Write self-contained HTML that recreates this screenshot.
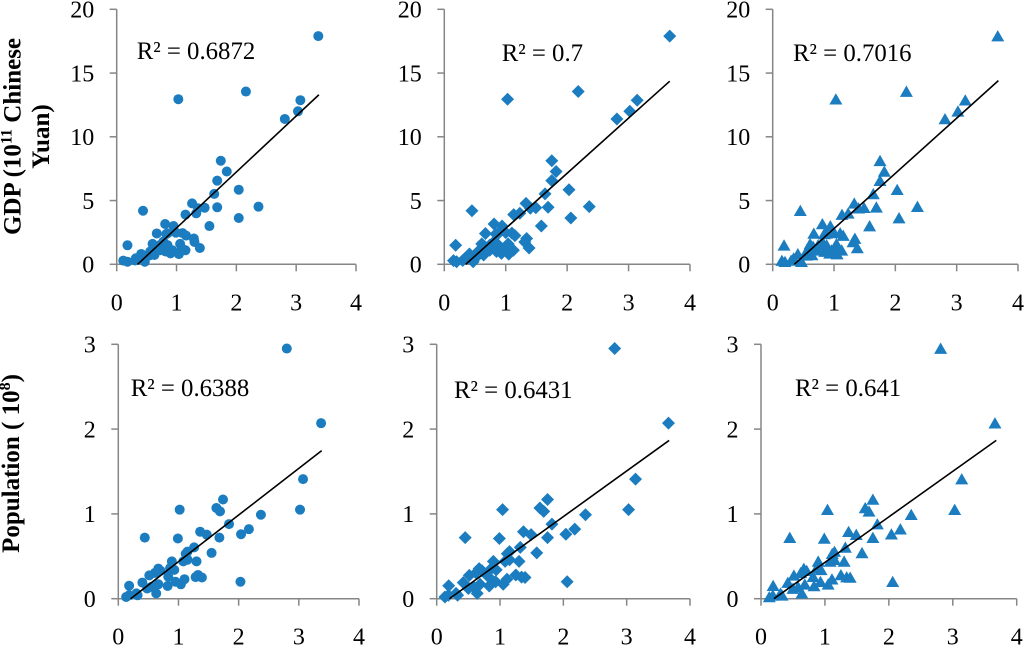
<!DOCTYPE html>
<html lang="en">
<head>
<meta charset="utf-8">
<title>GDP and population scatter panels</title>
<style>
html,body{margin:0;padding:0;background:#fff;width:1024px;height:645px;overflow:hidden}
svg{display:block}
text{font-family:"Liberation Serif",serif;fill:#000}
.tick{font-size:24px}
.r2{font-size:24.8px}
.ytitle{font-size:25px;font-weight:bold}
</style>
</head>
<body>
<svg id="chart" width="1024" height="645" viewBox="0 0 1024 645" xmlns="http://www.w3.org/2000/svg">
  <text class="ytitle" text-anchor="middle" transform="translate(20.5,136.5) rotate(-90)">GDP (10<tspan font-size="16" dy="-9">11</tspan><tspan dy="9"> Chinese</tspan></text>
  <text class="ytitle" text-anchor="middle" transform="translate(49,136.5) rotate(-90)">Yuan)</text>
  <text class="ytitle" text-anchor="middle" transform="translate(19,463.5) rotate(-90)">Population ( 10<tspan font-size="16" dy="-9">8</tspan><tspan dy="9">)</tspan></text>
</svg>
<script>
const xTicks = [0, 1, 2, 3, 4];
const gdpTicks = [0, 5, 10, 15, 20];
const popTicks = [0, 1, 2, 3];

const gdpY = [17.9,13.55,12.95,12.87,12.0,11.4,8.12,7.28,6.56,5.52,5.85,4.52,4.47,4.44,4.78,4.4,3.9,4.0,4.2,3.63,3.0,3.16,3.0,2.42,2.43,2.38,2.48,2.45,2.25,2.02,1.75,1.28,1.6,1.1,1.25,0.8,1.49,0.29,0.2,0.81,0.47,0.2,1.6,1.0,0.73,1.1,1.78,1.0,0.86,1.39,1.5,1.1,1.5,0.3,0.7];
const gdpXCircle = [3.37,2.16,1.03,3.07,3.03,2.81,1.74,1.84,1.68,1.63,2.04,2.37,1.68,1.47,1.26,1.36,1.15,1.33,0.44,2.04,1.55,0.81,0.95,0.67,0.85,0.83,0.99,1.1,1.16,1.29,1.3,1.39,1.06,1.15,1.09,1.04,0.18,0.11,0.18,0.41,0.32,0.47,0.6,0.56,0.63,0.72,0.78,0.82,0.9,0.67,0.72,0.93,0.85,0.31,0.55];
const gdpXDiamond = [3.67,2.18,1.03,3.14,3.02,2.81,1.75,1.82,1.75,1.64,2.03,2.36,1.69,1.49,1.33,1.4,1.13,1.23,0.45,2.06,1.58,0.81,0.94,0.67,0.88,0.84,1.0,1.1,1.15,1.34,1.31,1.38,1.04,1.125,1.07,1.05,0.185,0.15,0.2,0.41,0.34,0.47,0.61,0.55,0.64,0.74,0.81,0.85,0.93,0.66,0.74,0.96,0.88,0.3,0.55];

const popY = [2.95,2.07,1.41,1.05,1.05,1.17,1.07,1.03,0.88,0.99,0.82,0.76,0.79,0.755,0.72,0.71,0.72,0.54,0.605,0.555,0.53,0.46,0.44,0.44,0.44,0.34,0.36,0.355,0.33,0.305,0.275,0.26,0.2,0.15,0.17,0.23,0.255,0.28,0.25,0.2,0.19,0.153,0.063,0.17,0.14,0.12,0.063,0.04,0.02,0.04];
const popXCircle = [2.8,3.37,3.07,3.02,1.02,1.74,1.63,1.69,1.84,2.37,2.17,2.04,1.36,1.47,1.68,0.99,0.44,1.55,1.26,1.15,1.12,1.15,1.08,1.3,0.89,0.93,0.86,0.665,0.7,0.61,0.515,0.83,0.95,0.82,1.04,1.1,1.285,1.325,1.39,2.03,0.4,0.18,0.63,0.665,0.55,0.48,0.3,0.32,0.13,0.18];
const popXDiamond = [2.81,3.66,3.14,3.03,1.04,1.75,1.63,1.69,1.82,2.35,2.18,2.04,1.37,1.49,1.75,0.99,0.45,1.58,1.32,1.15,1.115,1.15,1.08,1.3,0.895,0.94,0.87,0.67,0.715,0.62,0.515,0.815,0.93,0.83,1.05,1.11,1.34,1.25,1.395,2.06,0.42,0.19,0.64,0.685,0.58,0.5,0.305,0.33,0.13,0.185];

const trendSlopes = [4.39, 4.325, 4.33, 0.55, 0.538, 0.537];
const trendIntercepts = [-1.54, -1.51, -1.53, -0.113, -0.108, -0.109];
const trendStarts = [0.35, 0.35, 0.353, 0.205, 0.2, 0.203];
const trendEnds = [3.38, 3.67, 3.68, 3.38, 3.67, 3.68];
const r2Labels = ["R² = 0.6872", "R² = 0.7", "R² = 0.7016", "R² = 0.6388", "R² = 0.6431", "R² = 0.641"];

const svg = document.getElementById('chart');
const NS = 'http://www.w3.org/2000/svg';
const AXIS = '#868686';
const MARK = '#1b7dc0';

const panels = [
  {id:'gdp-circle', xs:gdpXCircle, ys:gdpY, ticks:gdpTicks, shape:'circle', x0:116.7, x1:356, y0:264.3, y1:9.3, rx:136.7, ry:59},
  {id:'gdp-diamond', xs:gdpXDiamond, ys:gdpY, ticks:gdpTicks, shape:'diamond', x0:444.3, x1:690, y0:264.3, y1:9.3, rx:501.7, ry:61},
  {id:'gdp-triangle', xs:gdpXDiamond, ys:gdpY, ticks:gdpTicks, shape:'triangle', x0:772.7, x1:1018, y0:264.3, y1:9.3, rx:793, ry:61},
  {id:'population-circle', xs:popXCircle, ys:popY, ticks:popTicks, shape:'circle', x0:118.3, x1:359, y0:598.7, y1:344.3, rx:130.7, ry:396},
  {id:'population-diamond', xs:popXDiamond, ys:popY, ticks:popTicks, shape:'diamond', x0:436.7, x1:690, y0:598.7, y1:344.3, rx:454, ry:398},
  {id:'population-triangle', xs:popXDiamond, ys:popY, ticks:popTicks, shape:'triangle', x0:761, x1:1016.7, y0:598.7, y1:344.3, rx:795, ry:396}
];

function make(tag, parent, attrs) {
  const el = document.createElementNS(NS, tag);
  for (const k in attrs) el.setAttribute(k, attrs[k]);
  parent.appendChild(el);
  return el;
}

panels.forEach(function (p, pi) {
  const xMax = xTicks[xTicks.length - 1];
  const yMax = p.ticks[p.ticks.length - 1];
  const sx = function (v) { return p.x0 + (p.x1 - p.x0) * v / xMax; };
  const sy = function (v) { return p.y0 - (p.y0 - p.y1) * v / yMax; };

  const g = make('g', svg, {});
  
  

  const xAxis = make('line', g, {x1:sx(0), x2:sx(xMax), y1:p.y0, y2:p.y0, stroke:AXIS, 'stroke-width':1.5});
  
  
  const yAxis = make('line', g, {x1:p.x0, x2:p.x0, y1:sy(0), y2:sy(yMax), stroke:AXIS, 'stroke-width':1.5});
  
  

  xTicks.forEach(function (t) {
    const tick = make('line', g, {x1:sx(t), x2:sx(t), y1:p.y0, y2:p.y0 + 7, stroke:AXIS, 'stroke-width':1.5});
    
    
    const label = make('text', g, {x:sx(t), y:p.y0 + 46, 'text-anchor':'middle', class:'tick'});
    
    
    label.textContent = t;
  });

  p.ticks.forEach(function (t) {
    const tick = make('line', g, {x1:p.x0 - 7, x2:p.x0, y1:sy(t), y2:sy(t), stroke:AXIS, 'stroke-width':1.5});
    
    
    const label = make('text', g, {x:p.x0 - 22.5, y:sy(t) + 8.3, 'text-anchor':'end', class:'tick'});
    
    
    label.textContent = t;
  });

  p.ys.forEach(function (v, i) {
    const cx = sx(p.xs[i]);
    const cy = sy(v);
    let m;
    if (p.shape === 'circle') {
      m = make('circle', g, {cx:cx, cy:cy, r:5, fill:MARK});
    } else if (p.shape === 'diamond') {
      m = make('polygon', g, {points:[cx, cy - 6.5, cx + 6.5, cy, cx, cy + 6.5, cx - 6.5, cy].join(' '), fill:MARK});
    } else {
      m = make('polygon', g, {points:[cx, cy - 6, cx + 6.5, cy + 5.3, cx - 6.5, cy + 5.3].join(' '), fill:MARK});
    }
    
    
  });

  const trend = make('line', g, {
    x1:sx(trendStarts[pi]), y1:sy(trendSlopes[pi] * trendStarts[pi] + trendIntercepts[pi]),
    x2:sx(trendEnds[pi]), y2:sy(trendSlopes[pi] * trendEnds[pi] + trendIntercepts[pi]),
    stroke:'#000', 'stroke-width':1.6
  });
  
  

  const r2 = make('text', g, {x:p.rx, y:p.ry, class:'r2'});
  
  
  r2.textContent = r2Labels[pi];
});
</script>
</body>
</html>
